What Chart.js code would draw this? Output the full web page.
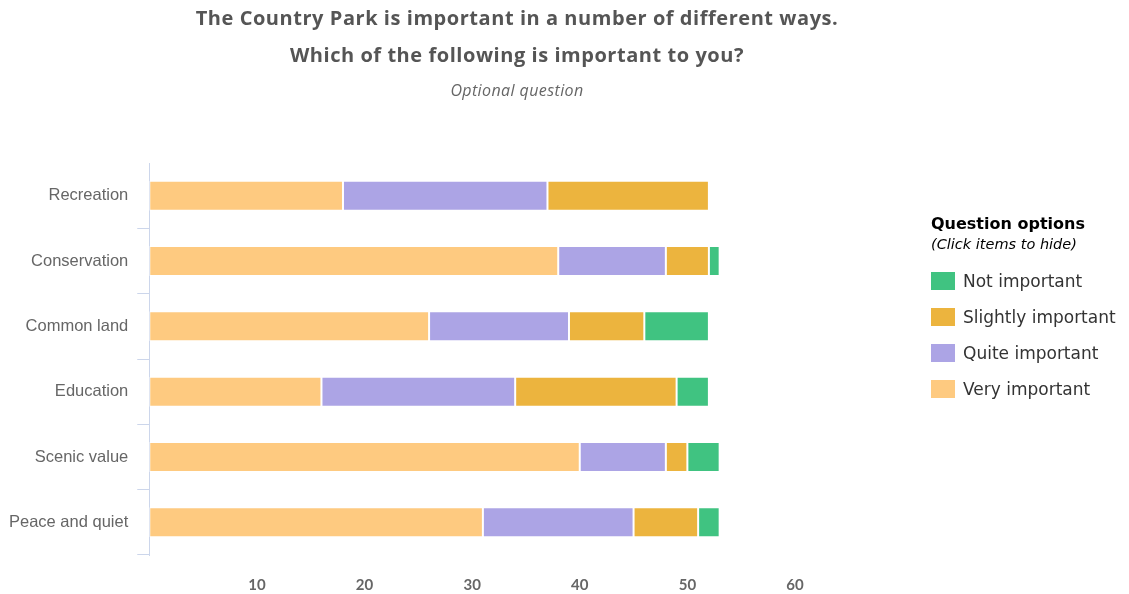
<!DOCTYPE html>
<html>
<head>
<meta charset="utf-8">
<script src="https://cdn.jsdelivr.net/npm/chart.js@4"></script>
<style>
    body { margin: 0; background: #fff; }
    .wrap { position: relative; width: 1129px; height: 594px; overflow: hidden; }
    .chart-title {
        position: absolute; left: 167px; top: -1px; width: 700px;
        text-align: center; font-family: "Open Sans", sans-serif; color: #555;
    }
    .chart-title h1 { margin: 0; font-size: 20px; font-weight: bold; letter-spacing: 0.55px; line-height: 37px; }
    .chart-title p { margin: 0; font-size: 16px; font-style: italic; letter-spacing: 0.4px; color: #666; line-height: 34px; }
    .legend {
        position: absolute; left: 931px; top: 214px;
        font-family: "DejaVu Sans", sans-serif; color: #333;
    }
    .legend h2 { margin: 0; font-size: 16px; font-weight: bold; color: #000; }
    .legend small { display: block; font-size: 14.5px; font-style: italic; color: #000; margin-top: 3px; margin-bottom: 11px; }
    .legend-item { display: flex; align-items: center; height: 36px; cursor: pointer; font-size: 17px; }
    .legend-item span { display: inline-block; width: 24px; height: 18px; margin-right: 8px; }
    .legend-item.hidden { color: #ccc; }
</style>
</head>
<body>
<div class="wrap">
    <div class="chart-title">
        <h1>The Country Park is important in a number of different ways.</h1>
        <h1>Which of the following is important to you?</h1>
        <p>Optional question</p>
    </div>
    <canvas id="parkChart" width="1129" height="615"></canvas>
    <div class="legend" id="legend">
        <h2>Question options</h2>
        <small>(Click items to hide)</small>
    </div>
</div>
<script>
// Chart Data Start
const categories = ["Recreation", "Conservation", "Common land", "Education", "Scenic value", "Peace and quiet"];
const veryImportant = [18, 38, 26, 16, 40, 31];
const quiteImportant = [19, 10, 13, 18, 8, 14];
const slightlyImportant = [15, 4, 7, 15, 2, 6];
const notImportant = [0, 1, 6, 3, 3, 2];
const xTicks = [0, 10, 20, 30, 40, 50, 60];
// Chart Data End

const ctx = document.getElementById("parkChart").getContext("2d");

let parkChart = new Chart(ctx, {
    type: "bar",
    data: {
        labels: categories,
        datasets: [
            { label: "Very important", data: veryImportant, backgroundColor: "#FECA80" },
            { label: "Quite important", data: quiteImportant, backgroundColor: "#ACA4E5" },
            { label: "Slightly important", data: slightlyImportant, backgroundColor: "#ECB43E" },
            { label: "Not important", data: notImportant, backgroundColor: "#40C381" }
        ]
    },
    options: {
        indexAxis: "y",
        responsive: false,
        animation: false,
        datasets: {
            bar: {
                borderColor: "#fff",
                borderWidth: 1,
                borderSkipped: false,
                categoryPercentage: 1,
                barPercentage: 0.46
            }
        },
        layout: {
            padding: { top: 163, right: 334, bottom: 0, left: 0 }
        },
        scales: {
            x: {
                stacked: true,
                min: 0,
                max: 60,
                afterBuildTicks: function(axis) {
                    axis.ticks = xTicks.map(v => ({ value: v }));
                },
                grid: { display: false, drawTicks: false },
                border: { display: false },
                ticks: {
                    padding: 21,
                    color: "#666",
                    font: { family: "Lato", size: 15, weight: "bold" },
                    callback: function(value) {
                        return value === 0 ? "" : value;
                    }
                }
            },
            y: {
                stacked: true,
                grid: {
                    offset: true,
                    drawOnChartArea: false,
                    drawTicks: true,
                    tickLength: 12,
                    color: function(c) {
                        return c.index === 0 ? "rgba(0,0,0,0)" : "#ccd6eb";
                    }
                },
                border: { display: true, color: "#ccd6eb" },
                ticks: {
                    padding: 9,
                    color: "#666",
                    font: { family: "Liberation Sans", size: 16.5 }
                }
            }
        },
        plugins: {
            legend: { display: false },
            title: { display: false },
            tooltip: { enabled: true }
        }
    }
});

// Legend Start
const legendBox = document.getElementById("legend");
parkChart.data.datasets.slice().reverse().forEach(ds => {
    const index = parkChart.data.datasets.indexOf(ds);
    const item = document.createElement("div");
    item.classList.add("legend-item");
    item.innerHTML = `<span style="background:${ds.backgroundColor}"></span>${ds.label}`;
    item.addEventListener("click", function() {
        const visible = parkChart.isDatasetVisible(index);
        parkChart.setDatasetVisibility(index, !visible);
        this.classList.toggle("hidden", visible);
        parkChart.update();
    });
    legendBox.appendChild(item);
});
// Legend End
</script>
</body>
</html>
